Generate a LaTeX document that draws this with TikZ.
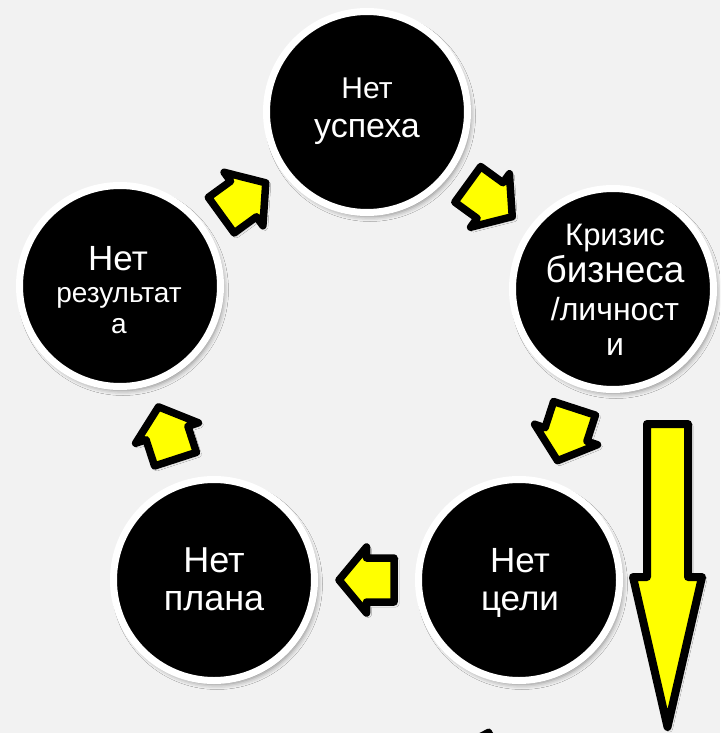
\documentclass[tikz,border=0pt]{standalone}
\usepackage{fontspec}
\setmainfont{Liberation Sans}
\usetikzlibrary{calc,shadows.blur}
\definecolor{bgcol}{HTML}{F2F2F2}
\definecolor{ylw}{HTML}{FFFF00}
\tikzset{
  circ/.style={circle, fill=black, draw=white, line width=7pt, minimum size=201pt, inner sep=0pt,
    blur shadow={shadow xshift=3pt, shadow yshift=-4pt, shadow blur radius=5pt, shadow opacity=45}},
  lbl/.style={text=white, anchor=base, inner sep=0pt},
  arrowbox/.style={fill=ylw, draw=black, line width=7.5pt, line join=round,
    blur shadow={shadow xshift=2pt, shadow yshift=-2pt, shadow blur radius=3pt, shadow opacity=35}},
  barrow/.pic={\path[arrowbox] (-27.5,-22) -- (0,-22) -- (0,-33) -- (27.5,0) -- (0,33) -- (0,22) -- (-27.5,22) -- cycle;}
}
\newcommand{\fs}[1]{\fontsize{#1}{#1}\selectfont}
\begin{document}
\begin{tikzpicture}[x=1pt, y=-1pt]
\useasboundingbox (0,0) rectangle (720,733);
\fill[bgcol] (0,0) rectangle (720,733);

% circles
\node[circ] (c1) at (367,112) {};
\node[circ] (c2) at (613,289) {};
\node[circ] (c3) at (519,580) {};
\node[circ] (c4) at (214,580) {};
\node[circ] (c5) at (120,286) {};

% labels
\node[lbl, font=\fs{30}] (t1a) at (367,99) {Нет};
\node[lbl, font=\fs{34}] (t1b) at (367,137) {успеха};
\node[lbl, font=\fs{31}] (t2a) at (615,245) {Кризис};
\node[lbl, font=\fs{37}] (t2b) at (615,282) {бизнеса};
\node[lbl, font=\fs{32}] (t2c) at (615,320) {/личност};
\node[lbl, font=\fs{32}] (t2d) at (615,355) {и};
\node[lbl, font=\fs{35}] (t3a) at (520,572) {Нет};
\node[lbl, font=\fs{35}] (t3b) at (520,610) {цели};
\node[lbl, font=\fs{36}] (t4a) at (214,572) {Нет};
\node[lbl, font=\fs{36}] (t4b) at (214,610) {плана};
\node[lbl, font=\fs{35}] (t5a) at (118,270) {Нет};
\node[lbl, font=\fs{28}] (t5b) at (119,302) {результат};
\node[lbl, font=\fs{28}] (t5c) at (119,333) {а};

% cycle arrows
\pic[rotate=36] (a1) at ($(c5)!0.5!(c1)$) {barrow};
\pic[rotate=-36] (a2) at ($(c1)!0.5!(c2)$) {barrow};
\pic[rotate=-108] (a3) at ($(c2)!0.5!(c3)$) {barrow};
\pic[rotate=180] (a4) at ($(c3)!0.5!(c4)$) {barrow};
\pic[rotate=108] (a5) at ($(c4)!0.5!(c5)$) {barrow};

% big arrow
\path[arrowbox, line width=8pt] (647,424) -- (688,424) -- (688,577) -- (702,577) -- (667.5,727) -- (633,577) -- (647,577) -- cycle;

% cut-off shape at bottom
\begin{scope}
\clip (0,0) rectangle (720,733);
\fill[black, rounded corners=3pt] (462,742) -- (490,727.5) -- (498,742) -- cycle;
\end{scope}
\end{tikzpicture}
\end{document}
